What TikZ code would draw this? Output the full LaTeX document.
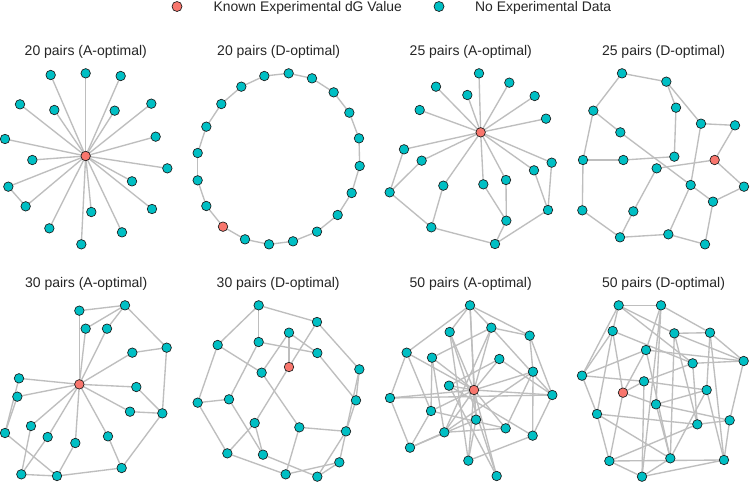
\documentclass[tikz,border=0pt]{standalone}
\usepackage{fontspec}
\setmainfont{Liberation Sans}
\usetikzlibrary{backgrounds}
\definecolor{teal0}{RGB}{0,191,196}
\definecolor{red0}{RGB}{248,118,109}
\definecolor{edgegray}{RGB}{190,190,190}
\tikzset{
 gnode/.style={circle,draw=black!90,line width=0.65pt,inner sep=0pt,minimum size=9.5pt},
 tnode/.style={gnode,fill=teal0},
 rnode/.style={gnode,fill=red0},
 edge/.style={draw=edgegray,line width=1.35pt},
 ttl/.style={font=\fontsize{14}{16}\selectfont,text=black!85,inner sep=0pt},
 leg/.style={font=\fontsize{13.9}{16}\selectfont,text=black!85,inner sep=0pt,anchor=west},
 panel/.style={x=0.333333pt,y=-0.333333pt},
}
\begin{document}
\begin{tikzpicture}[x=1pt,y=-1pt]
\begin{scope}[on background layer]
\fill[white] (0,0) rectangle (750,482);
\end{scope}
\useasboundingbox (0,0) rectangle (750,482);
% legend
\node[rnode,minimum size=10pt] (legr) at (177,6.5) {};
\node[leg] (legrt) at (213.5,8) {Known Experimental dG Value};
\node[tnode,minimum size=10pt] (legt) at (439,6.5) {};
\node[leg] (legtt) at (475,8) {No Experimental Data};
% titles
\node[ttl] (t1) at (85.8,52.3) {20 pairs (A-optimal)};
\node[ttl] (t2) at (278.7,52.3) {20 pairs (D-optimal)};
\node[ttl] (t3) at (470.8,52.3) {25 pairs (A-optimal)};
\node[ttl] (t4) at (663.5,52.3) {25 pairs (D-optimal)};
\node[ttl] (t5) at (86.2,284) {30 pairs (A-optimal)};
\node[ttl] (t6) at (278.2,284) {30 pairs (D-optimal)};
\node[ttl] (t7) at (470.7,284) {50 pairs (A-optimal)};
\node[ttl] (t8) at (663.5,284) {50 pairs (D-optimal)};

% panel 1
\begin{scope}[shift={(0,40)},panel]
\node[rnode] (p1x) at (257,348) {};
\foreach \nm/\px/\py in {a/152/105,b/257/100,c/362/108,d/60/193,e/163/210,f/344/212,g/454/191,h/15/297,i/467/290,j/97/360,k/502/385,l/25/440,m/396/424,n/77/499,o/274/516,p/456/507,q/148/565,r/366/577,s/244/613}
  \node[tnode] (p1\nm) at (\px,\py) {};
\begin{scope}[on background layer]
\foreach \u/\v in {x/a,x/b,x/c,x/d,x/e,x/f,x/g,x/h,x/i,x/j,x/k,x/l,x/m,x/n,x/o,x/p,x/q,x/r,x/s,l/n}
  \draw[edge] (p1\u.center) -- (p1\v.center);
\end{scope}
\end{scope}

% panel 2
\begin{scope}[shift={(187,40)},panel]
\foreach \nm/\px/\py in {1/305/100,2/375/115,3/440/157,4/487/218,5/516/295,6/518/378,7/494/459,8/452/525,9/390/575,10/318/604,11/246/613,12/174/598,14/58/498,15/32/421,16/32/339,17/58/260,18/103/192,19/163/140,20/232/108}
  \node[tnode] (p2n\nm) at (\px,\py) {};
\node[rnode] (p2n13) at (108,560) {};
\begin{scope}[on background layer]
\foreach \u/\v in {1/2,2/3,3/4,4/5,5/6,6/7,7/8,8/9,9/10,10/11,11/12,12/13,13/14,14/15,15/16,16/17,17/18,18/19,19/20,20/1}
  \draw[edge] (p2n\u.center) -- (p2n\v.center);
\end{scope}
\end{scope}

% panel 3
\begin{scope}[shift={(374,40)},panel]
\node[rnode] (p3x) at (320,277) {};
\foreach \nm/\px/\py in {a/315/100,b/406/128,c/186/140,d/280/165,e/482/168,f/137/210,g/516/236,h/90/328,i/143/362,j/533/368,k/480/391,l/208/437,m/328/433,n/396/420,o/47/457,p/522/510,q/397/542,r/172/562,s/363/612}
  \node[tnode] (p3\nm) at (\px,\py) {};
\begin{scope}[on background layer]
\foreach \u/\v in {x/a,x/b,x/c,x/d,x/e,x/f,x/g,x/h,x/i,x/j,x/k,x/l,x/m,x/n,h/o,i/o,o/r,l/r,r/s,s/q,q/n,q/m,s/p,p/k,p/j}
  \draw[edge] (p3\u.center) -- (p3\v.center);
\end{scope}
\end{scope}

% panel 4
\begin{scope}[shift={(561,40)},panel]
\node[rnode] (p4x) at (461,360) {};
\foreach \nm/\px/\py in {a/183/100,b/316/125,c/345/203,d/97/212,e/420/251,f/522/256,g/178/277,h/66/360,i/187/360,j/340/350,k/287/385,l/389/435,m/549/440,n/456/485,o/64/511,p/217/514,q/177/592,r/322/583,s/432/613}
  \node[tnode] (p4\nm) at (\px,\py) {};
\begin{scope}[on background layer]
\foreach \u/\v in {a/b,a/d,b/c,b/e,c/j,e/f,f/x,d/h,d/g,h/i,i/j,h/o,o/q,q/p,p/k,k/x,x/m,m/n,n/s,s/r,r/q,r/l,l/e,g/l,l/n}
  \draw[edge] (p4\u.center) -- (p4\v.center);
\end{scope}
\end{scope}

% panel 5
\begin{scope}[shift={(0,260)},panel]
\node[rnode] (p5x) at (238,373) {};
\foreach \nm/\px/\py in {a/238/152,b/375/136,c/257/206,d/321/206,e/500/263,f/397/278,g/57/355,h/52/410,i/409/381,j/390/455,k/487/460,l/15/519,m/93/498,n/143/531,o/226/549,p/324/529,q/365/624,r/64/643,s/171/648}
  \node[tnode] (p5\nm) at (\px,\py) {};
\begin{scope}[on background layer]
\foreach \u/\v in {x/a,x/c,x/d,x/f,x/i,x/j,x/g,x/h,x/m,x/n,x/o,x/p,a/b,b/c,b/d,b/e,e/f,e/k,k/i,k/j,k/q,q/p,q/s,s/o,s/l,l/h,l/g,m/r,n/r,r/s}
  \draw[edge] (p5\u.center) -- (p5\v.center);
\end{scope}
\end{scope}

% panel 6
\begin{scope}[shift={(187,260)},panel]
\node[rnode] (p6x) at (306,321) {};
\foreach \nm/\px/\py in {a/215/136,b/390/186,c/306/218,d/92/255,e/215/246,f/391/279,g/224/338,h/517/328,i/32/428,j/126/418,k/507/421,l/203/489,m/337/502,n/477/514,o/121/580,p/228/584,q/457/607,r/296/643,s/391/650}
  \node[tnode] (p6\nm) at (\px,\py) {};
\begin{scope}[on background layer]
\foreach \u/\v in {a/b,a/d,a/e,b/h,b/x,c/f,c/x,c/g,d/g,d/i,e/f,e/j,f/k,g/m,h/k,h/q,i/j,i/o,j/p,x/l,l/o,l/p,m/n,m/r,k/n,n/s,o/r,p/s,q/r,q/s}
  \draw[edge] (p6\u.center) -- (p6\v.center);
\end{scope}
\end{scope}

% panel 7
\begin{scope}[shift={(374,260)},panel]
\node[rnode] (p7x) at (300,390) {};
\foreach \nm/\px/\py in {a/288/136,b/352/203,c/227/216,d/467/227,e/98/278,f/174/293,g/376/297,h/477/335,i/225/377,j/48/414,k/535/405,l/171/453,m/306/479,n/395/505,o/211/517,p/476/527,q/108/563,r/283/602,s/368/648}
  \node[tnode] (p7\nm) at (\px,\py) {};
\begin{scope}[on background layer]
\foreach \u/\v in {a/c,a/e,a/b,a/d,a/x,a/m,b/f,b/d,b/x,b/o,b/k,c/x,c/s,c/r,d/h,d/k,e/j,e/x,e/l,f/l,f/o,f/x,g/x,g/k,g/i,h/x,h/p,h/o,i/x,i/s,j/x,j/q,j/k,k/x,l/x,l/q,m/x,m/r,n/x,n/h,n/o,o/x,o/q,p/r,p/k,q/m,r/x,s/x,i/p,l/n}
  \draw[edge] (p7\u.center) -- (p7\v.center);
\end{scope}
\end{scope}

% panel 8
\begin{scope}[shift={(561,260)},panel]
\node[rnode] (p8x) at (186,398) {};
\foreach \nm/\px/\py in {a/173/136,b/300/136,c/155/213,d/340/220,e/447/218,f/255/270,g/548/303,h/395/310,i/63/347,j/249/364,k/437/390,l/285/433,m/108/462,n/506/481,o/409/493,p/145/603,q/328/595,r/489/600,s/243/650}
  \node[tnode] (p8\nm) at (\px,\py) {};
\begin{scope}[on background layer]
\foreach \u/\v in {a/b,a/c,a/d,a/h,a/i,b/e,b/f,b/s,b/l,c/h,c/i,c/x,c/m,d/e,d/q,d/o,e/g,e/r,e/k,f/i,f/g,f/x,g/h,g/n,h/o,h/j,i/j,i/m,j/k,j/x,j/s,x/l,x/p,l/n,l/k,l/q,m/o,m/p,k/q,k/r,n/r,n/o,o/p,q/s,s/r,p/s,f/q,m/q,p/r,d/g}
  \draw[edge] (p8\u.center) -- (p8\v.center);
\end{scope}
\end{scope}
\end{tikzpicture}
\end{document}
